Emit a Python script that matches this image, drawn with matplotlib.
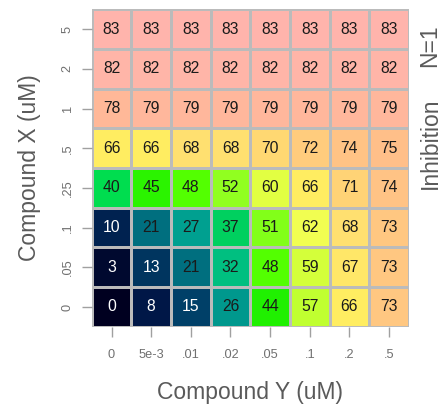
import numpy as np
import matplotlib
matplotlib.use("Agg")
import matplotlib.pyplot as plt
from matplotlib.colors import LinearSegmentedColormap, Normalize

compound_y = ["0", "5e-3", ".01", ".02", ".05", ".1", ".2", ".5"]
compound_x = ["0", ".05", ".1", ".25", ".5", "1", "2", "5"]

# rows from Compound X = 0 (bottom) to 5 (top)
row_0 = [0, 8, 15, 26, 44, 57, 66, 73]
row_005 = [3, 13, 21, 32, 48, 59, 67, 73]
row_01 = [10, 21, 27, 37, 51, 62, 68, 73]
row_025 = [40, 45, 48, 52, 60, 66, 71, 74]
row_05 = [66, 66, 68, 68, 70, 72, 74, 75]
row_1 = [78, 79, 79, 79, 79, 79, 79, 79]
row_2 = [82, 82, 82, 82, 82, 82, 82, 82]
row_5 = [83, 83, 83, 83, 83, 83, 83, 83]

values = np.array([row_0, row_005, row_01, row_025, row_05, row_1, row_2, row_5])

stops = [
    (0, "#000020"), (8, "#001848"), (15, "#004068"), (21, "#007080"),
    (27, "#00a090"), (32, "#00c080"), (37, "#00d060"), (40, "#00dd50"),
    (44, "#20f000"), (48, "#50ff00"), (52, "#90ff20"), (57, "#c0ff30"),
    (60, "#e0ff40"), (62, "#f0ff50"), (66, "#ffee60"), (68, "#ffe070"),
    (70, "#ffd872"), (73, "#ffc880"), (75, "#ffc088"), (78, "#ffb898"),
    (83, "#ffb4ac"),
]
vmin, vmax = 0, 83
cmap = LinearSegmentedColormap.from_list(
    "inh", [((v - vmin) / (vmax - vmin), c) for v, c in stops])
norm = Normalize(vmin, vmax)

plt.rcParams['font.family'] = ['Liberation Sans', 'DejaVu Sans']

fig = plt.figure(figsize=(4.45, 4.04), dpi=100)
ax = fig.add_axes([0.206, 0.191, 0.713, 0.786])

nrow, ncol = values.shape
ax.pcolormesh(np.arange(ncol + 1), np.arange(nrow + 1), values, cmap=cmap,
              norm=norm, edgecolors="#bbbbbb", linewidth=0.75)
for i in range(nrow):
    for j in range(ncol):
        v = values[i, j]
        ax.text(j + 0.5, i + 0.5, str(v), ha="center", va="center",
                fontsize=11.3, color="white" if v < 20 else "#1a1a1a")

ax.set_xlim(0, ncol)
ax.set_ylim(0, nrow)
for s in ax.spines.values():
    s.set_visible(False)

ax.set_xticks(np.arange(ncol) + 0.5)
ax.set_xticklabels(compound_y)
ax.set_yticks(np.arange(nrow) + 0.5)
ax.set_yticklabels(compound_x, rotation=90, va="center")
ax.tick_params(axis="x", length=7.5, width=1, color="#a0a0a0",
               labelcolor="#707070", labelsize=9.2, pad=8.5)
ax.tick_params(axis="y", length=7.5, width=1, color="#a0a0a0",
               labelcolor="#707070", labelsize=9.2, pad=5.5)

ax.set_xlabel("Compound Y (uM)", fontsize=16.5, color="#5a5a5a", labelpad=14)
ax.set_ylabel("Compound X (uM)", fontsize=16.5, color="#5a5a5a", labelpad=15)

fig.text(430 / 445, 1 - 143 / 404, "Inhibition", rotation=90, ha="center",
         va="center", fontsize=16.5, color="#5a5a5a")
fig.text(430 / 445, 1 - 46 / 404, "N=1", rotation=90, ha="center",
         va="center", fontsize=16.5, color="#5a5a5a")

fig.savefig("out.png", dpi=100)
